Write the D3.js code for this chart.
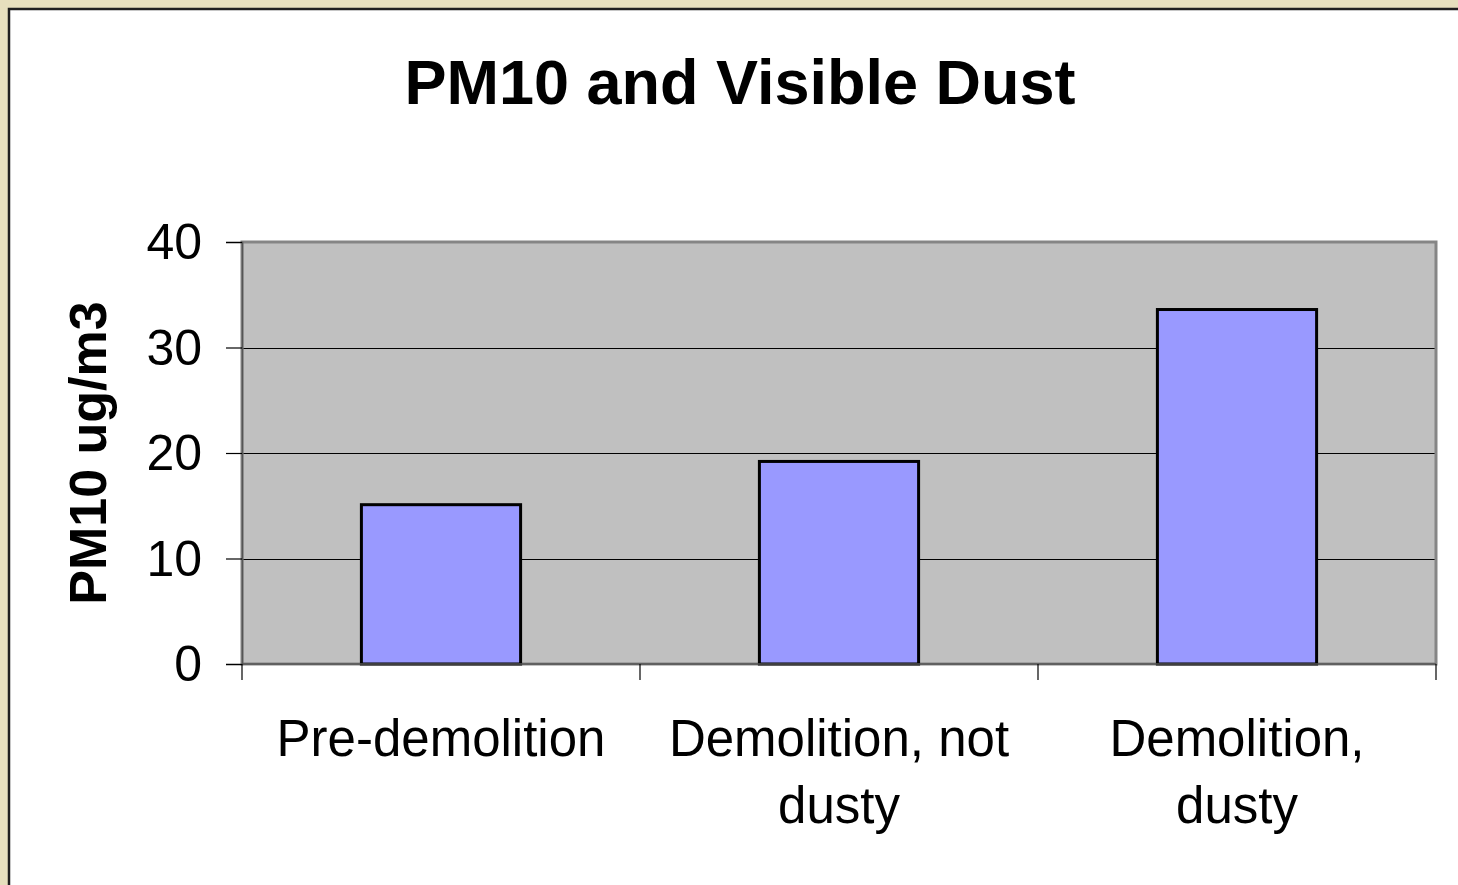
<!DOCTYPE html>
<html>
<head>
<meta charset="utf-8">
<script src="https://cdn.jsdelivr.net/npm/d3@7"></script>
<style>
  html, body { margin: 0; padding: 0; background: #e6dfbd; }
  svg { display: block; }
  text { font-family: "Liberation Sans", Arial, sans-serif; fill: #000; }
</style>
</head>
<body>
<svg width="1458" height="885"></svg>
<script>
var categories = ["Pre-demolition", "Demolition, not dusty", "Demolition, dusty"];
var labelLines = [["Pre-demolition"], ["Demolition, not", "dusty"], ["Demolition,", "dusty"]];
var values = [15.1, 19.2, 33.6];
var yTicks = [0, 10, 20, 30, 40];

var svg = d3.select("svg");

// white sheet on the beige page
svg.append("rect")
	.attr("x", 9).attr("y", 9)
	.attr("width", 1460).attr("height", 890)
	.style("fill", "#fff")
	.style("stroke", "#1e1e1e")
	.style("stroke-width", 2.5);

var pLeft = 242, pRight = 1436, pTop = 242, pBottom = 664;

var x = d3.scaleBand().domain(categories).range([pLeft, pRight]).padding(0);
var y = d3.scaleLinear().domain([0, 40]).range([pBottom, pTop]);

// plot area
svg.append("rect")
	.attr("x", pLeft).attr("y", pTop)
	.attr("width", pRight - pLeft).attr("height", pBottom - pTop)
	.style("fill", "#c0c0c0");

// gridlines
svg.append("g")
	.selectAll("line")
	.data(yTicks.slice(1, -1))
	.enter()
	.append("line")
	.attr("x1", pLeft).attr("x2", pRight)
	.attr("y1", d => Math.round(y(d)) + 0.5)
	.attr("y2", d => Math.round(y(d)) + 0.5)
	.style("stroke", "#000")
	.style("stroke-width", 1);

// frame
svg.append("rect")
	.attr("x", pLeft).attr("y", pTop)
	.attr("width", pRight - pLeft).attr("height", pBottom - pTop)
	.style("fill", "none")
	.style("stroke", "#858585")
	.style("stroke-width", 3);

// bars
var barW = x.bandwidth() * 0.4;
svg.append("g")
	.selectAll("rect")
	.data(values)
	.enter()
	.append("rect")
	.attr("x", (d, i) => x(categories[i]) + (x.bandwidth() - barW) / 2)
	.attr("y", d => y(d))
	.attr("width", barW)
	.attr("height", d => y(0) - y(d))
	.style("fill", "#9999ff")
	.style("stroke", "#000")
	.style("stroke-width", 3);

// y axis
var yAxis = d3.axisLeft(y).tickValues(yTicks).tickSize(16).tickPadding(24);
var yg = svg.append("g")
	.attr("transform", "translate(" + pLeft + ",0)")
	.call(yAxis);
yg.select(".domain").attr("stroke", "#555").attr("stroke-width", 1.5);
yg.selectAll(".tick line").attr("stroke", "#000").attr("stroke-width", 1.2);
yg.selectAll(".tick text")
	.style("font-size", "50px")
	.style("font-family", "'Liberation Sans', Arial, sans-serif")
	.attr("dy", "0.33em");

// x axis: ticks at band edges
var edges = categories.map(c => x(c)).concat([pRight]);
var xg = svg.append("g");
xg.append("line")
	.attr("x1", pLeft).attr("x2", pRight)
	.attr("y1", pBottom).attr("y2", pBottom)
	.style("stroke", "#555").style("stroke-width", 1.5);
xg.selectAll(".xt")
	.data(edges)
	.enter()
	.append("line")
	.attr("class", "xt")
	.attr("x1", d => d).attr("x2", d => d)
	.attr("y1", pBottom).attr("y2", pBottom + 16)
	.style("stroke", "#000").style("stroke-width", 1.2);

var labels = xg.selectAll(".xl")
	.data(categories)
	.enter()
	.append("text")
	.attr("class", "xl")
	.attr("text-anchor", "middle")
	.attr("x", d => x(d) + x.bandwidth() / 2)
	.attr("y", 756)
	.style("font-size", "51px");
labels.selectAll("tspan")
	.data((d, i) => labelLines[i])
	.enter()
	.append("tspan")
	.attr("x", function () { return d3.select(this.parentNode).attr("x"); })
	.attr("dy", (d, i) => i == 0 ? 0 : 67)
	.text(d => d);

// titles
svg.append("text")
	.attr("x", 740).attr("y", 104)
	.attr("text-anchor", "middle")
	.style("font-size", "63px")
	.style("font-weight", "bold")
	.text("PM10 and Visible Dust");

svg.append("text")
	.attr("transform", "translate(106,453) rotate(-90)")
	.attr("text-anchor", "middle")
	.style("font-size", "52px")
	.style("font-weight", "bold")
	.text("PM10 ug/m3");
</script>
</body>
</html>
